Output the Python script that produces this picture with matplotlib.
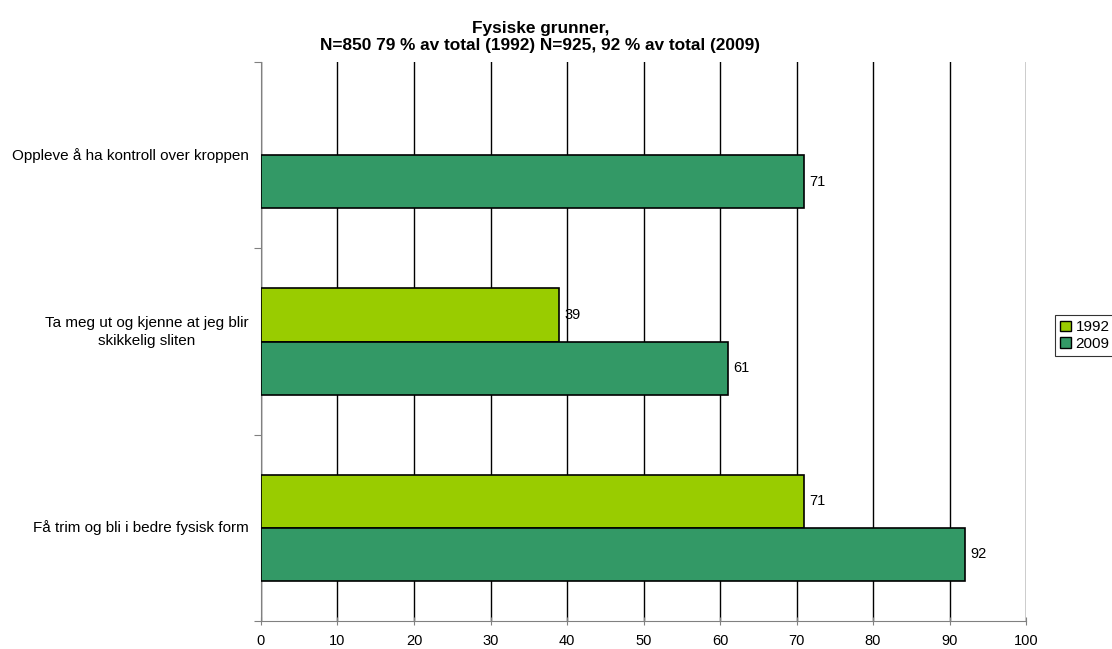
import matplotlib.pyplot as plt
import numpy as np

plt.rcParams['font.family'] = ['Liberation Sans', 'DejaVu Sans']

categories = ["Få trim og bli i bedre fysisk form",
              "Ta meg ut og kjenne at jeg blir\nskikkelig sliten",
              "Oppleve å ha kontroll over kroppen"]
v1992 = [71, 39, None]
v2009 = [92, 61, 71]
years = ["1992", "2009"]
colors = ["#99CC00", "#339966"]

fig = plt.figure(figsize=(11.12, 6.49), dpi=100)
ax = fig.add_axes([0.2347, 0.0431, 0.6880, 0.8614])

y = np.arange(len(categories))
h = 0.285
for vals, off, col, lab in [(v1992, h / 2, colors[0], years[0]), (v2009, -h / 2, colors[1], years[1])]:
    ys = [yy + off for yy, v in zip(y, vals) if v is not None]
    vs = [v for v in vals if v is not None]
    bars = ax.barh(ys, vs, height=h, color=col, edgecolor='black', linewidth=1.2, label=lab, zorder=3)
    for b, v in zip(bars, vs):
        ax.text(b.get_width() + 0.7, b.get_y() + b.get_height() / 2, str(v),
                va='center', ha='left', fontsize=10.5, zorder=4)

ax.set_xlim(0, 100)
ax.set_ylim(-0.5, 2.5)
ax.set_xticks(range(0, 101, 10))
ax.tick_params(axis='x', direction='inout', length=6, labelsize=10.5, pad=6, color='#808080')
ax.grid(axis='x', color='black', linewidth=1.0, zorder=1)

# kategorinavn mellom grensemerkene
ax.set_yticks([-0.5, 0.5, 1.5, 2.5])
ax.set_yticklabels([])
ax.tick_params(axis='y', direction='out', length=5, color='#808080')
for yy, c in zip(y, categories):
    dy = 0.05 if '\n' in c else 0
    ax.text(-1.6, yy + dy, c, ha='right', va='center', multialignment='center',
            fontsize=11, linespacing=1.4)

for s in ['top', 'right']:
    ax.spines[s].set_visible(False)
ax.spines['left'].set_color('#808080')
ax.spines['bottom'].set_color('#808080')

fig.text(0.486, 1 - 37 / 649, "Fysiske grunner,\nN=850 79 % av total (1992) N=925, 92 % av total (2009)",
         ha='center', va='center', fontsize=12.4, fontweight='bold', linespacing=1.1)

leg = fig.legend(loc='upper left', bbox_to_anchor=(1055 / 1112, 1 - 315 / 649), fontsize=11,
                 frameon=True, fancybox=False, edgecolor='black', handlelength=0.7,
                 handleheight=0.7, handletextpad=0.3, borderpad=0.35, labelspacing=0.15,
                 borderaxespad=0)
leg.get_frame().set_linewidth(0.8)
for p in leg.get_patches():
    p.set_linewidth(1.0)

fig.savefig('out.png', dpi=100)
